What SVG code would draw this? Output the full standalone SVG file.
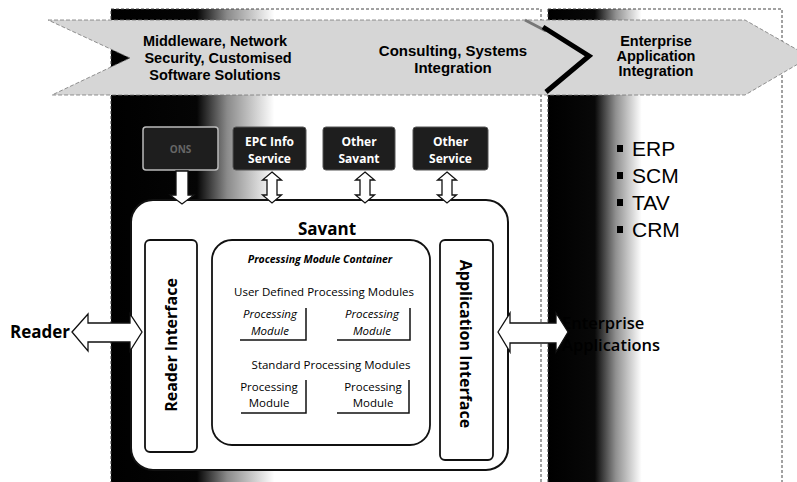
<svg xmlns="http://www.w3.org/2000/svg" width="797" height="482" viewBox="0 0 797 482">
<style>
.hdr{font-family:"Liberation Sans",Arial,sans-serif;font-weight:bold;font-size:14.5px;fill:#000;text-anchor:middle}
.blt{font-family:"Liberation Sans",Arial,sans-serif;font-size:21px;fill:#000}
.ui{font-family:"Open Sans","Noto Sans",sans-serif;fill:#000;text-anchor:middle}
.big{font-weight:bold;font-size:16px}
.sm{font-size:11.5px}
.it{font-style:italic}
.dbox{fill:#1e1e1e;stroke:#555;stroke-width:1}
.dtx{font-family:"Open Sans","Noto Sans",sans-serif;font-weight:bold;font-size:12px;fill:#fff;text-anchor:middle}
.frame{fill:none;stroke:#444;stroke-width:1;stroke-dasharray:3 2}
.arr{fill:#fff;stroke:#111;stroke-width:1.3;stroke-linejoin:miter}
.pm{fill:none;stroke:#111;stroke-width:1.5}
.ibox{fill:#fff;stroke:#111;stroke-width:1.8}
</style>
<defs>
<linearGradient id="g1" x1="111" y1="0" x2="541" y2="0" gradientUnits="userSpaceOnUse">
<stop offset="0" stop-color="#000"/><stop offset="0.2" stop-color="#050505"/><stop offset="0.27" stop-color="#8a8a8a"/><stop offset="0.38" stop-color="#fff"/><stop offset="1" stop-color="#fff"/>
</linearGradient>
<linearGradient id="g2" x1="548" y1="0" x2="782" y2="0" gradientUnits="userSpaceOnUse">
<stop offset="0" stop-color="#000"/><stop offset="0.2" stop-color="#080808"/><stop offset="0.29" stop-color="#909090"/><stop offset="0.4" stop-color="#fff"/><stop offset="1" stop-color="#fff"/>
</linearGradient>
</defs>
<rect width="797" height="482" fill="#fff"/>
<g id="panel-savant-side">
<rect x="111" y="9" width="430" height="480" fill="url(#g1)"/>
<rect x="111" y="9" width="430" height="480" class="frame"/>
</g>
<g id="panel-enterprise-side">
<rect x="548" y="9" width="234" height="480" fill="url(#g2)"/>
<rect x="548" y="9" width="234" height="480" class="frame"/>
</g>
<g id="chevron-band">
<polygon points="48,20 745,20 810,57 745,95 52,95 130,58" fill="#d6d6d6" stroke="#777" stroke-width="0.8" stroke-dasharray="4 2"/>
<polyline points="525,20 546,31" fill="none" stroke="#777" stroke-width="3"/>
<polyline points="543,27 589,56 546,92" fill="none" stroke="#000" stroke-width="5"/>
<text class="hdr"><tspan x="215" y="46">Middleware, Network</tspan><tspan x="218" y="63">Security, Customised</tspan><tspan x="215" y="80">Software Solutions</tspan></text>
<text class="hdr" style="font-size:15px"><tspan x="453" y="56">Consulting, Systems</tspan><tspan x="453" y="73">Integration</tspan></text>
<text class="hdr"><tspan x="656" y="46">Enterprise</tspan><tspan x="656" y="61">Application</tspan><tspan x="656" y="76">Integration</tspan></text>
</g>
<g id="node-ons">
<rect x="143" y="127" width="75" height="43" rx="3" class="dbox" style="stroke:#bbb;stroke-width:1.5"/>
<text class="dtx" x="180.5" y="153" style="fill:#666;font-size:10px">ONS</text>
</g>
<g id="node-epc-info">
<rect x="233" y="127" width="73" height="43" rx="3" class="dbox"/>
<text class="dtx"><tspan x="269.5" y="146">EPC Info</tspan><tspan x="269.5" y="163">Service</tspan></text>
</g>
<g id="node-other-savant">
<rect x="323" y="127" width="72" height="43" rx="3" class="dbox"/>
<text class="dtx"><tspan x="359" y="146">Other</tspan><tspan x="359" y="163">Savant</tspan></text>
</g>
<g id="node-other-service">
<rect x="413" y="127" width="75" height="43" rx="3" class="dbox"/>
<text class="dtx"><tspan x="450.5" y="146">Other</tspan><tspan x="450.5" y="163">Service</tspan></text>
</g>
<g id="node-savant">
<rect x="131" y="200" width="377" height="270" rx="22" fill="#fff" stroke="#111" stroke-width="2"/>
<text class="ui big" x="327" y="235" style="font-size:17px">Savant</text>
</g>
<g id="node-reader-interface">
<rect x="145" y="240" width="52" height="212" rx="5" class="ibox"/>
<text class="ui big" transform="translate(171,345) rotate(-90)" y="6">Reader Interface</text>
</g>
<g id="node-application-interface">
<rect x="440" y="240" width="53" height="220" rx="5" class="ibox"/>
<text class="ui big" transform="translate(466,344) rotate(90)" y="6">Application Interface</text>
</g>
<g id="node-container">
<rect x="212" y="240" width="218" height="205" rx="20" class="ibox"/>
<text class="ui it" x="320" y="263" style="font-weight:bold;font-size:10.5px">Processing Module Container</text>
<text class="ui sm" x="324" y="296">User Defined Processing Modules</text>
<text class="ui sm" x="331" y="369">Standard Processing Modules</text>
</g>
<g id="node-pm-user-1">
<path class="pm" d="M240 340H306V308"/>
<text class="ui sm it"><tspan x="270" y="318">Processing</tspan><tspan x="270" y="335">Module</tspan></text>
</g>
<g id="node-pm-user-2">
<path class="pm" d="M337 340H410V308"/>
<text class="ui sm it"><tspan x="372" y="318">Processing</tspan><tspan x="372" y="335">Module</tspan></text>
</g>
<g id="node-pm-std-1">
<path class="pm" d="M241 413H306V380"/>
<text class="ui sm"><tspan x="269" y="391">Processing</tspan><tspan x="269" y="407">Module</tspan></text>
</g>
<g id="node-pm-std-2">
<path class="pm" d="M337 413H409V380"/>
<text class="ui sm"><tspan x="373" y="391">Processing</tspan><tspan x="373" y="407">Module</tspan></text>
</g>
<g id="node-reader">
<text class="ui big" x="40" y="338" style="font-size:17px">Reader</text>
</g>
<g id="node-enterprise-apps">
<text class="ui" style="text-anchor:start;font-weight:600;font-size:16.5px"><tspan x="562" y="329">Enterprise</tspan><tspan x="562" y="351">Applications</tspan></text>
</g>
<g id="node-enterprise-list">
<rect x="617" y="145" width="6" height="7" fill="#000"/>
<rect x="617" y="172" width="6" height="7" fill="#000"/>
<rect x="617" y="199" width="6" height="7" fill="#000"/>
<rect x="617" y="226" width="6" height="7" fill="#000"/>
<text class="blt" x="632" y="156">ERP</text>
<text class="blt" x="632" y="183">SCM</text>
<text class="blt" x="632" y="210">TAV</text>
<text class="blt" x="632" y="237">CRM</text>
</g>
<g id="connectors">
<polygon class="arr" points="176,171 188,171 188,195 194,195 182,204 170,195 176,195"/>
<polygon class="arr" points="272,172 281.5,180 277,180 277,195 281.5,195 272,203 262.5,195 267,195 267,180 262.5,180"/>
<polygon class="arr" points="365,172 374.5,180 370,180 370,195 374.5,195 365,203 355.5,195 360,195 360,180 355.5,180"/>
<polygon class="arr" points="447,172 456.5,180 452,180 452,195 456.5,195 447,203 437.5,195 442,195 442,180 437.5,180"/>
<polygon class="arr" points="72,332 88,314 88,323 130,323 130,314 142,332 130,351 130,342 88,342 88,351"/>
<polygon class="arr" points="498,332 510,313 510,323 556,323 556,313 568,332 556,352 556,343 510,343 510,352"/>
</g>
</svg>
